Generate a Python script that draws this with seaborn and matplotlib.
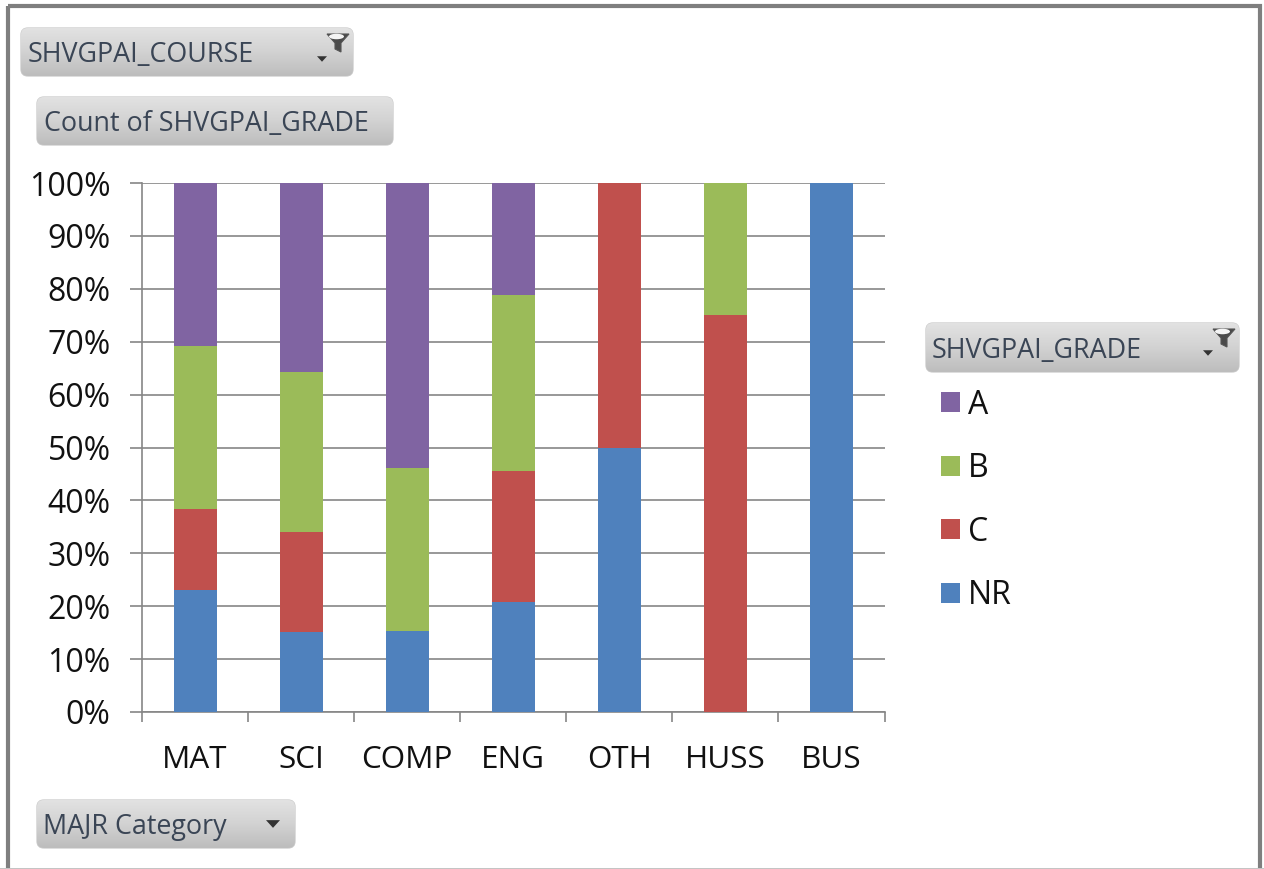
#!/usr/bin/env python3
# stacked percent columns, pivot chart look
import numpy as np
import pandas as pd
import matplotlib
matplotlib.use("Agg")
import matplotlib.pyplot as plt
from matplotlib.patches import Ellipse, FancyBboxPatch, Polygon, Rectangle
from matplotlib.ticker import PercentFormatter
import seaborn as sns

majors = ["MAT", "SCI", "COMP", "ENG", "OTH", "HUSS", "BUS"]
grades = ["NR", "C", "B", "A"]
nr = [23.1, 15.1, 15.4, 20.8, 50.0, 0.0, 100.0]
c = [15.3, 18.9, 0.0, 24.8, 50.0, 75.0, 0.0]
b = [30.8, 30.2, 30.8, 33.2, 0.0, 25.0, 0.0]
a = [30.8, 35.8, 53.8, 21.2, 0.0, 0.0, 0.0]
y_ticks = [0, 10, 20, 30, 40, 50, 60, 70, 80, 90, 100]
grade_colors = {"NR": "#4f81bd", "C": "#c0504d", "B": "#9bbb59", "A": "#8064a2"}

W, H = 1264, 869
sns.set_theme(style="white")
plt.rcParams["font.family"] = ["Open Sans", "DejaVu Sans"]

df = pd.DataFrame({"major": majors, "NR": nr, "C": c, "B": b, "A": a})

fig = plt.figure(figsize=(W / 100, H / 100), dpi=100, facecolor="white")
ax = fig.add_axes([142 / W, 1 - 712 / H, (884.5 - 142) / W, (712 - 183) / H])

# stack the series by drawing each on the running total
bottom = np.zeros(len(majors))
for g in grades:
    sns.barplot(data=df, x="major", y=g, order=majors, color=grade_colors[g], width=0.405,
                bottom=bottom, label=g, saturation=1, ax=ax, zorder=3, linewidth=0)
    bottom = bottom + df[g].to_numpy()

ax.set_xlim(-0.5, 6.5)
ax.set_ylim(0, 100)
ax.set_xlabel("")
ax.set_ylabel("")
ax.set_yticks(y_ticks)
ax.yaxis.set_major_formatter(PercentFormatter(100, decimals=0))
ax.grid(axis="y", color="#868686", lw=1.2, zorder=0)
ax.set_axisbelow(True)
sns.despine(ax=ax, top=True, right=True)
for s in ["left", "bottom"]:
    ax.spines[s].set_color("#868686")
    ax.spines[s].set_linewidth(1.2)
ax.tick_params(axis="y", left=True, length=8.6, width=1.2, color="#868686", labelsize=23,
               labelcolor="#111111", pad=14)
ax.tick_params(axis="x", bottom=False, labelsize=22.6, labelcolor="#111111", pad=18)
# ticks between the categories, as in the pivot chart
ax.set_xticks(np.arange(-0.5, 7, 1), minor=True)
ax.tick_params(axis="x", which="minor", bottom=True, length=7.5, width=1.2, color="#868686")

handles, labels = ax.get_legend_handles_labels()
leg = ax.legend(handles[::-1], labels[::-1], loc="upper left", frameon=False,
                bbox_to_anchor=(931.5 / W, 1 - 379 / H), bbox_transform=fig.transFigure,
                fontsize=23, labelcolor="#111111", handlelength=0.6, handleheight=0.6,
                handletextpad=0.25, labelspacing=0.955, borderpad=0.3, borderaxespad=0)

# overlay in pixel coordinates for frame and field buttons
ov = fig.add_axes([0, 0, 1, 1], zorder=5)
ov.set_xlim(0, W)
ov.set_ylim(H, 0)
ov.axis("off")
ov.patch.set_alpha(0)

ov.add_patch(Rectangle((7.5, 5.5), 1252, 900, fill=False, ec="#7f7f7f", lw=3))
ov.add_patch(Rectangle((0, 867.5), W, 2, fc="#c4c4c4", ec="none"))

grad = np.linspace(0, 1, 64).reshape(-1, 1)
cmap = matplotlib.colors.LinearSegmentedColormap.from_list("btn", ["#e2e2e2", "#d2d2d2", "#bdbdbd"])


def button(x0, y0, x1, y1, text, tx, arrow=None, funnel=False):
    box = FancyBboxPatch((x0 + 6, y0 + 6), x1 - x0 - 12, y1 - y0 - 12,
                         boxstyle="round,pad=6,rounding_size=7", fc="none", ec="#cfcfcf", lw=1)
    ov.add_patch(box)
    im = ov.imshow(grad, extent=(x0, x1, y1, y0), cmap=cmap, aspect="auto", zorder=1)
    im.set_clip_path(box)
    ov.text(tx, (y0 + y1) / 2 + 3, text, fontsize=19.4, color="#3a4555", va="center", ha="left", zorder=3)
    if arrow is not None:
        ax_, ay_, s = arrow
        ov.add_patch(Polygon([(ax_ - s, ay_ - s * .55), (ax_ + s, ay_ - s * .55), (ax_, ay_ + s * .55)],
                             fc="#333333", ec="none", zorder=3))
    if funnel:
        fx, fy = x1 - 15, y0 + 12
        ov.add_patch(Polygon([(fx - 11, fy - 6), (fx + 11, fy - 6), (fx + 3, fy + 3), (fx + 3, fy + 12),
                              (fx - 3, fy + 9), (fx - 3, fy + 3)],
                             fc="#4a4a4a", ec="#555555", lw=0.8, zorder=3))
        ov.add_patch(Ellipse((fx - 1.5, fy - 3.5), 15, 5.5, fc="#f4f4f4", ec="none", zorder=3))


button(21, 28, 353, 76, "SHVGPAI_COURSE", 28, arrow=(322, 59, 5), funnel=True)
button(37, 97, 393, 145, "Count of SHVGPAI_GRADE", 44)
button(926, 323, 1239, 372, "SHVGPAI_GRADE", 932, arrow=(1208, 353, 5), funnel=True)
button(37, 800, 295, 848, "MAJR Category", 43, arrow=(273, 824, 7))
ov.set_xlim(0, W)
ov.set_ylim(H, 0)

fig.savefig("out.png", dpi=100, facecolor="white")
